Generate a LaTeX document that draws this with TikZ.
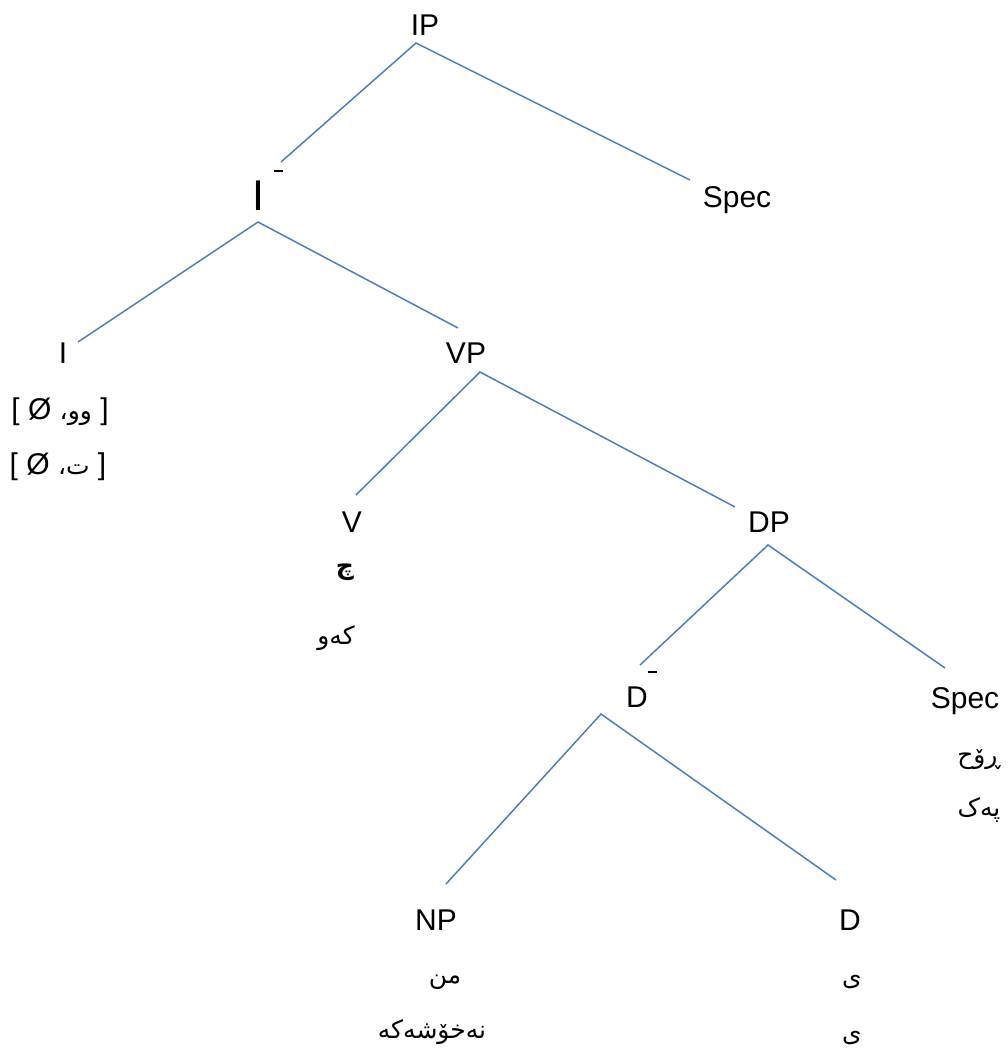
\documentclass[tikz,border=0pt]{standalone}
\usepackage{fontspec}
\setmainfont{Liberation Sans}
\newfontfamily\arabicfont[Script=Arabic]{DejaVu Sans}
\TeXXeTstate=1
\definecolor{treeblue}{RGB}{74,126,193}
\begin{document}
\begin{tikzpicture}[x=1pt,y=-1pt,
  lab/.style={anchor=base,inner sep=0pt,font=\fontsize{30}{36}\selectfont},
  ar/.style={anchor=center,inner sep=0pt,font=\fontsize{25}{30}\selectfont\arabicfont},
  br/.style={anchor=center,inner sep=0pt,font=\fontsize{30}{36}\selectfont},
  edge/.style={draw=treeblue,line width=1.5pt},
  barline/.style={draw=black,line width=1.8pt}]
\useasboundingbox (0,0) rectangle (1008,1050);
% labels
\node[lab] (IP) at (425,35) {IP};
\node[lab,font=\fontsize{43}{50}\selectfont] (Ibar) at (258,210) {I};
\node[lab] (SpecA) at (737,207) {Spec};
\node[lab] (I) at (63,363) {I};
\node[lab] (VP) at (466,363) {VP};
\node[lab] (V) at (352,532) {V};
\node[lab] (DP) at (769,532) {DP};
\node[lab] (Dbar) at (637,707) {D};
\node[lab] (SpecB) at (965,708) {Spec};
\node[lab] (NP) at (436,930) {NP};
\node[lab] (D) at (850,930) {D};
% bars
\coordinate (IbarL) at (274,171); \coordinate (IbarR) at (283,171);
\draw[barline] (IbarL) -- (IbarR);
\coordinate (DbarL) at (648,672); \coordinate (DbarR) at (657,672);
\draw[barline] (DbarL) -- (DbarR);
% Arabic / Kurdish texts
\node[br] (Ia) at (60,412) {[ Ø {\arabicfont\fontsize{25}{30}\selectfont\beginR وو،\endR} ]};
\node[br] (Ib) at (58,467) {[ Ø {\arabicfont\fontsize{25}{30}\selectfont\beginR ت،\endR} ]};
\node[ar,font=\fontsize{25}{30}\selectfont\arabicfont\bfseries] (Va) at (345,572) {\beginR چ\endR};
\node[ar] (Vb) at (336,638) {\beginR کەو\endR};
\node[ar] (Sa) at (979,760) {\beginR ڕۆح\endR};
\node[ar] (Sb) at (979,810) {\beginR پەک\endR};
\node[ar] (Na) at (445,982) {\beginR من\endR};
\node[ar] (Nb) at (432,1032) {\beginR نەخۆشەکە\endR};
\node[ar] (Da) at (852,982) {\beginR ی\endR};
\node[ar] (Db) at (852,1038) {\beginR ی\endR};
% connector end points
\coordinate (IPb) at (416,43);
\coordinate (Ibt) at (281,162);
\coordinate (SpecAt) at (690,180);
\coordinate (Ibb) at (258,222);
\coordinate (It) at (78,342);
\coordinate (VPt) at (458,328);
\coordinate (VPb) at (480,372);
\coordinate (Vt) at (356,495);
\coordinate (DPt) at (735,507);
\coordinate (DPb) at (768,545);
\coordinate (Dbt) at (640,665);
\coordinate (SpecBt) at (945,668);
\coordinate (Dbb) at (601,714);
\coordinate (NPt) at (446,884);
\coordinate (Dt) at (836,880);
% edges
\draw[edge] (Ibt) -- (IPb) -- (SpecAt);
\draw[edge] (It) -- (Ibb) -- (VPt);
\draw[edge] (Vt) -- (VPb) -- (DPt);
\draw[edge] (Dbt) -- (DPb) -- (SpecBt);
\draw[edge] (NPt) -- (Dbb) -- (Dt);
\end{tikzpicture}
\end{document}
